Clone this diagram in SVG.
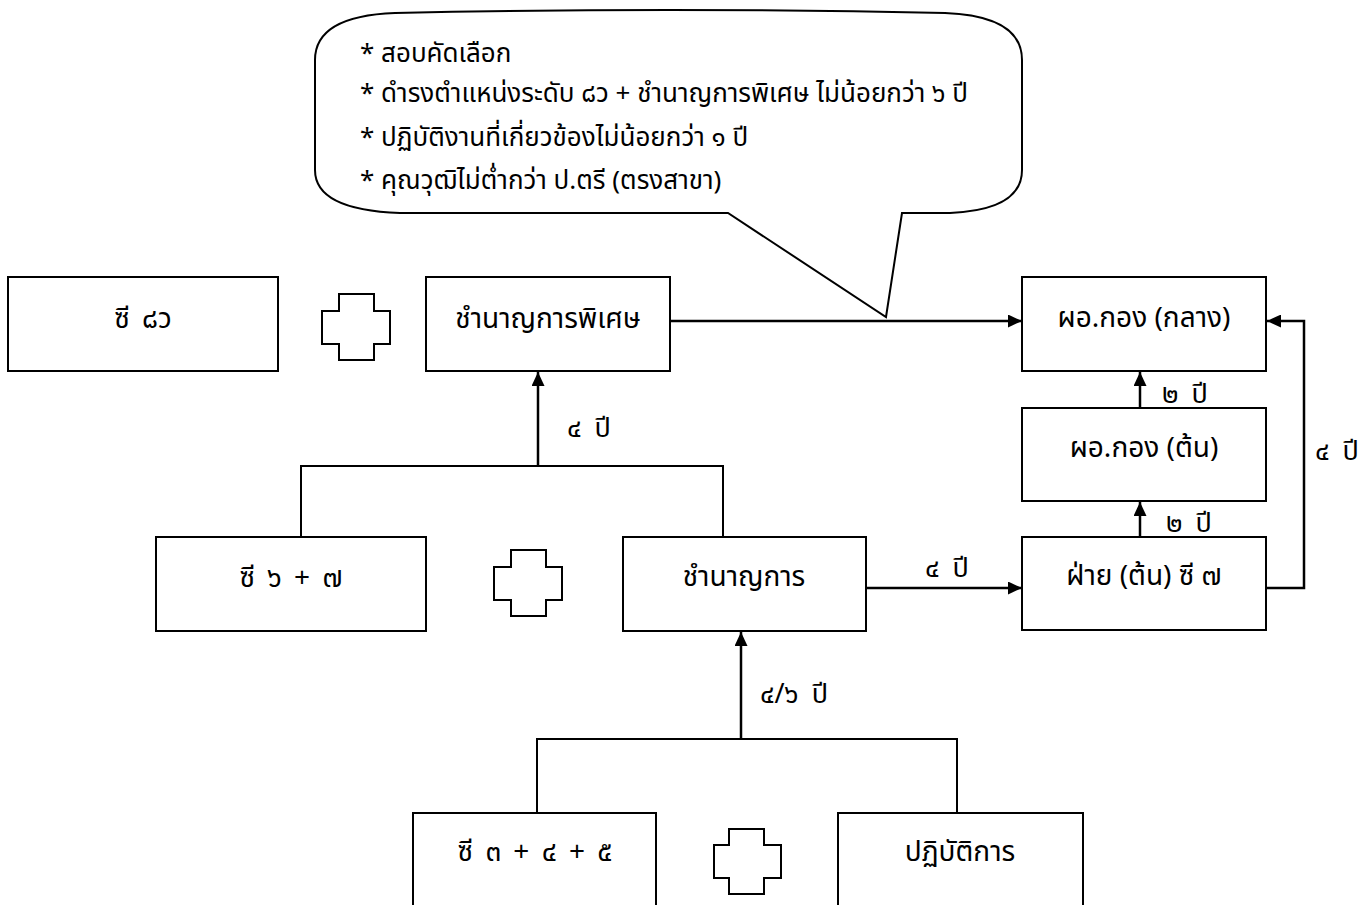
<svg xmlns="http://www.w3.org/2000/svg" width="1368" height="905" viewBox="0 0 1368 905">
<style>
.box{fill:#fff;stroke:#000;stroke-width:2}
.plus{fill:#fff;stroke:#000;stroke-width:2}
.ln{fill:none;stroke:#000;stroke-width:2}
.ar{fill:none;stroke:#000;stroke-width:2.5}
text{font-family:"Noto Sans Thai","Noto Sans","DejaVu Sans",sans-serif;font-size:28px;fill:#000}
.co{font-size:26px}
.lb{font-size:27px;word-spacing:6px}
.c{text-anchor:middle}
.num{word-spacing:5px}
</style>
<defs>
<marker id="ah" markerUnits="userSpaceOnUse" markerWidth="15" markerHeight="13" refX="14" refY="6.5" orient="auto">
<path d="M0,0 L14,6.5 L0,13 Z" fill="#000"/>
</marker>
</defs>
<rect width="1368" height="905" fill="#fff"/>
<g id="callout">
<path class="ln" d="M395,13 Q668,7 945,13 Q1022,16 1022,60 L1022,170 Q1022,210 950,213 L902,213 L886,317 L728,213 L400,213 Q315,210 315,170 L315,60 Q315,16 395,13 Z"/>
<text class="co" x="360" y="62">* สอบคัดเลือก</text>
<text class="co" x="360" y="102">* ดำรงตำแหน่งระดับ ๘ว + ชำนาญการพิเศษ ไม่น้อยกว่า ๖ ปี</text>
<text class="co" x="360" y="146">* ปฏิบัติงานที่เกี่ยวข้องไม่น้อยกว่า ๑ ปี</text>
<text class="co" x="360" y="189">* คุณวุฒิไม่ต่ำกว่า ป.ตรี (ตรงสาขา)</text>
</g>
<g id="connectors">
<line class="ar" x1="670" y1="321" x2="1022" y2="321" marker-end="url(#ah)"/>
<path class="ln" d="M301,537 V466 H723 V537"/>
<line class="ar" x1="538" y1="466" x2="538" y2="372" marker-end="url(#ah)"/>
<path class="ln" d="M537,813 V739 H957 V813"/>
<line class="ar" x1="741" y1="739" x2="741" y2="632" marker-end="url(#ah)"/>
<line class="ar" x1="866" y1="588" x2="1022" y2="588" marker-end="url(#ah)"/>
<line class="ar" x1="1140" y1="537" x2="1140" y2="502" marker-end="url(#ah)"/>
<line class="ar" x1="1140" y1="408" x2="1140" y2="372" marker-end="url(#ah)"/>
<path class="ar" d="M1263,588 H1304 V321 H1267" marker-end="url(#ah)"/>
<text class="lb" x="567" y="437">๔ ปี</text>
<text class="lb" x="925" y="577">๔ ปี</text>
<text class="lb" x="1162" y="403">๒ ปี</text>
<text class="lb" x="1166" y="532">๒ ปี</text>
<text class="lb" x="1315" y="460">๔ ปี</text>
<text class="lb" x="760" y="703">๔/๖ ปี</text>
</g>
<g id="n-c8v"><rect class="box" x="8" y="277" width="270" height="94"/><text class="c num" x="143" y="328">ซี ๘ว</text></g>
<g id="plus1"><path class="plus" d="M339,294 H374 V311 H390 V344 H374 V360 H339 V344 H322 V311 H339 Z"/></g>
<g id="n-special"><rect class="box" x="426" y="277" width="244" height="94"/><text class="c" x="548" y="328">ชำนาญการพิเศษ</text></g>
<g id="n-dir-mid"><rect class="box" x="1022" y="277" width="244" height="94"/><text class="c" x="1144" y="327">ผอ.กอง (กลาง)</text></g>
<g id="n-dir-start"><rect class="box" x="1022" y="408" width="244" height="93"/><text class="c" x="1144" y="457">ผอ.กอง (ต้น)</text></g>
<g id="n-c67"><rect class="box" x="156" y="537" width="270" height="94"/><text class="c num" x="291" y="587">ซี ๖ + ๗</text></g>
<g id="plus2"><path class="plus" d="M511,550 H546 V567 H562 V600 H546 V616 H511 V600 H494 V567 H511 Z"/></g>
<g id="n-expert"><rect class="box" x="623" y="537" width="243" height="94"/><text class="c" x="744" y="586">ชำนาญการ</text></g>
<g id="n-section"><rect class="box" x="1022" y="537" width="244" height="93"/><text class="c" x="1144" y="585">ฝ่าย (ต้น) ซี ๗</text></g>
<g id="n-c345"><rect class="box" x="413" y="813" width="243" height="100"/><text class="c num" x="535" y="861">ซี ๓ + ๔ + ๕</text></g>
<g id="plus3"><path class="plus" d="M729,829 H764 V845 H781 V878 H764 V894 H729 V878 H714 V845 H729 Z"/></g>
<g id="n-practitioner"><rect class="box" x="838" y="813" width="245" height="100"/><text class="c" x="960" y="861">ปฏิบัติการ</text></g>
</svg>
